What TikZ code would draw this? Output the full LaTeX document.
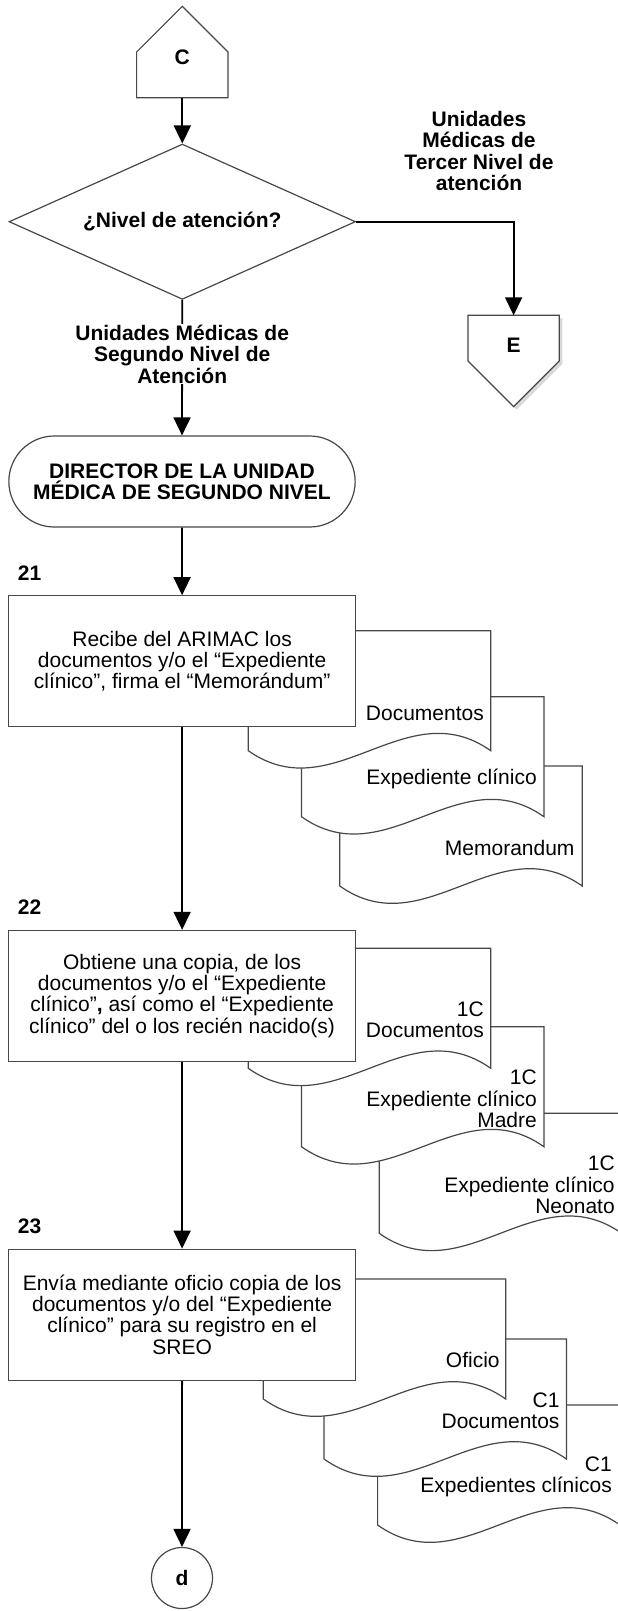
\documentclass[tikz,border=0pt]{standalone}
\usepackage{fontspec}
\setmainfont{Liberation Sans}
\usetikzlibrary{arrows.meta,positioning,shapes.geometric}
\newcommand{\fsz}{\fontsize{21}{21.3}\selectfont}
\tikzset{%
   shp/.style={draw=black!72, line width=1.2pt, fill=white},
   offp/.style={rectangle, minimum width=91pt, minimum height=91pt, inner sep=0pt},
   proc/.style={shp, rectangle, minimum width=346.8pt, minimum height=131pt, inner sep=0pt, align=center},
   flow/.style={line width=1.8pt, -{Triangle[length=18pt, width=17pt]}},
   lbl/.style={font=\fsz\bfseries, align=center, inner sep=1pt},
   num/.style={font=\fsz\bfseries, inner sep=0pt},
   doctxt/.style={align=right, anchor=east, inner sep=0pt},
}
\newcommand{\docpage}[2]{%
  \draw[shp, shift={(#1,#2)}] (0,0) -- (242.4,0) -- (242.4,-120)
     .. controls (157.6,-60) and (84.8,-180) .. (0,-120) -- cycle;%
}
\begin{document}
\begin{tikzpicture}[x=1pt, y=1pt, font=\fsz]
\useasboundingbox (0,0) rectangle (618,-1611);
\clip (0,0) rectangle (618,-1611);

% conector C
\node[offp] (c) at (182.3,-52) {};
\draw[shp] (c.south west) -- (c.west) -- (c.north) -- (c.east) -- (c.south east) -- cycle;
\node[num] (cLbl) at ([yshift=-5pt]c.center) {C};

% decision
\node[shp, diamond, aspect=2.23, minimum width=346.5pt, minimum height=155.3pt, inner sep=0pt, font=\fsz\bfseries] (nivel) at (182.3,-221.7) {¿Nivel de atención?};

% conector E
\node[offp] (e) at (513.6,-361) {};
\fill[black!15, transform canvas={shift={(3pt,-3pt)}}] (e.north west) -- (e.north east) -- (e.east) -- (e.south) -- (e.west) -- cycle;
\draw[shp] (e.north west) -- (e.north east) -- (e.east) -- (e.south) -- (e.west) -- cycle;
\node[num] (eLbl) at ([yshift=16pt]e.center) {E};

\node[lbl] (tercer) at (479,-151) {Unidades\\Médicas de\\Tercer Nivel de\\atención};

% terminal
\node[shp, rounded corners=45.5pt, minimum width=346.3pt, minimum height=91pt, align=center, font=\fsz\bfseries] (director) at (182,-481.5) {DIRECTOR DE LA UNIDAD\\MÉDICA DE SEGUNDO NIVEL};

% 21
\docpage{339.8}{-766}
\node[doctxt] (memo) at (574.7,-848.3) {Memorandum};
\docpage{301.5}{-696.7}
\node[doctxt] (exp21) at (537,-779.3) {Expediente clínico};
\docpage{248.3}{-630.7}
\node[doctxt] (docs21) at (484,-713.3) {Documentos};
\node[proc] (b21) at (182.1,-661.3) {Recibe del ARIMAC los\\documentos y/o el “Expediente\\clínico”, firma el “Memorándum”};
\node[num, above right=15pt and 9.6pt of b21.north west] (n21) {21};

% 22
\docpage{379.2}{-1113.3}
\node[doctxt] (neo22) at (614.9,-1185) {1C\\Expediente clínico\\Neonato};
\docpage{301.5}{-1026.7}
\node[doctxt] (madre22) at (537,-1099) {1C\\Expediente clínico\\Madre};
\docpage{248.3}{-948.3}
\node[doctxt] (docs22) at (484,-1019.7) {1C\\Documentos};
\node[proc] (b22) at (182.1,-995.9) {Obtiene una copia, de los\\documentos y/o el “Expediente\\clínico”\textbf{,} así como el “Expediente\\clínico” del o los recién nacido(s)};
\node[num, above right=15pt and 9.6pt of b22.north west] (n22) {22};

% 23
\docpage{377.6}{-1405}
\node[doctxt] (exp23) at (612,-1476.7) {C1\\Expedientes clínicos};
\docpage{324}{-1339}
\node[doctxt] (docs23) at (559.7,-1410.8) {C1\\Documentos};
\docpage{263.3}{-1279}
\node[doctxt] (oficio) at (499.8,-1360) {Oficio};
\node[proc] (b23) at (182.1,-1314.7) {Envía mediante oficio copia de los\\documentos y/o del “Expediente\\clínico” para su registro en el\\SREO};
\node[num, above right=15pt and 9.6pt of b23.north west] (n23) {23};

\node[shp, circle, minimum size=61pt, inner sep=0pt, font=\fsz\bfseries] (d) at (182,-1578) {d};

% connectors
\draw[flow] (c.south) -- (nivel.north);
\draw[flow] (nivel.east) -| (e.north);
\draw[flow] (nivel.south) -- (director.north) node[lbl, pos=0.4, fill=white] (segundo) {Unidades Médicas de\\Segundo Nivel de\\Atención};
\draw[flow] (director.south) -- (b21.north);
\draw[flow] (b21.south) -- (b22.north);
\draw[flow] (b22.south) -- (b23.north);
\draw[flow] (b23.south) -- (d.north);
\end{tikzpicture}
\end{document}
